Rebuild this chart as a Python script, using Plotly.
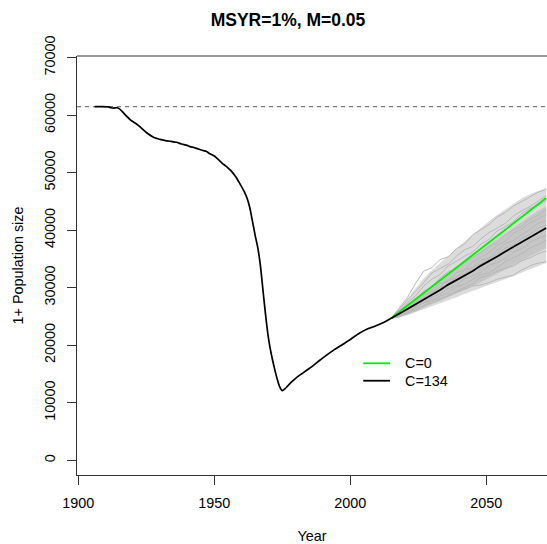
import plotly.graph_objects as go

# ---------------- data ----------------
hist_years = [1906, 1909, 1911, 1912, 1913, 1914, 1915, 1916, 1917, 1918, 1919, 1920,
              1921, 1922, 1923, 1924, 1925, 1926, 1927, 1928, 1929, 1930, 1932, 1934,
              1936, 1938, 1940, 1941, 1942, 1944, 1946, 1947, 1948, 1950, 1951, 1952,
              1953, 1954, 1955, 1956, 1957, 1958, 1959, 1960, 1961, 1962, 1963, 1964,
              1965, 1966, 1967, 1968, 1969, 1970, 1971, 1972, 1973, 1974, 1975, 1976,
              1977, 1978, 1980, 1982, 1985, 1988, 1991, 1994, 1997, 2000, 2003, 2006,
              2009, 2012, 2015]
hist_pop = [61500, 61500, 61450, 61300, 61250, 61300, 61150, 60700, 60200, 59700, 59250, 58900,
            58600, 58250, 57850, 57400, 57000, 56650, 56350, 56100, 55950, 55800, 55600, 55450,
            55300, 55000, 54750, 54550, 54450, 54150, 53850, 53750, 53400, 52900, 52500, 52050,
            51600, 51250, 50850, 50400, 49850, 49200, 48400, 47600, 46700, 45600, 44000, 41600,
            39100, 36900, 33600, 29000, 24600, 20900, 18300, 16200, 14300, 12800, 12100, 12450,
            12950, 13450, 14300, 15000, 16000, 17100, 18200, 19200, 20100, 21000, 22000, 22800,
            23300, 23900, 24700]

carrying_capacity = 61500

proj_years = [2015, 2018, 2021, 2024, 2027, 2030, 2033, 2036, 2039, 2042,
              2045, 2048, 2051, 2054, 2057, 2060, 2063, 2066, 2069, 2072]
proj_c0 = [24700, 25800, 26850, 28000, 29150, 30200, 31350, 32400, 33450, 34600,
           35700, 36750, 37900, 39000, 40050, 41200, 42300, 43350, 44500, 45600]
proj_c134 = [24700, 25450, 26300, 27150, 27950, 28850, 29600, 30550, 31300, 32150,
             32900, 33850, 34600, 35450, 36300, 37150, 37900, 38750, 39550, 40400]

# envelopes of the simulated trajectories
sim_outer_hi = [24700, 26300, 28000, 29800, 31600, 33000, 34200, 35400, 36700, 38000,
                39200, 40400, 41500, 42600, 43600, 44600, 45500, 46200, 46800, 47300]
sim_outer_lo = [24700, 24900, 25300, 25800, 26300, 26900, 27400, 27900, 28400, 29000,
                29500, 30000, 30500, 31000, 31600, 32100, 32700, 33300, 33900, 34400]
sim_inner_hi = [24700, 26000, 27100, 28200, 29300, 30400, 31400, 32400, 33400, 34400,
                35400, 36500, 37500, 38500, 39500, 40500, 41500, 42400, 43300, 44100]
sim_inner_lo = [24700, 25000, 25400, 25900, 26600, 27200, 27800, 28400, 29000, 29600,
                30300, 31000, 31700, 32400, 33200, 34000, 34800, 35500, 36200, 36900]

# a few individual simulated trajectories (read approximately)
sim_runs = [
    [24700, 26500, 28300, 30800, 32900, 33500, 34900, 35400, 36800, 37600, 39200, 40100, 41000, 42300, 43100, 44200, 45000, 45900, 46600, 47100],
    [24700, 24900, 25600, 26100, 26900, 27400, 27900, 28700, 29200, 29800, 30300, 30500, 30900, 31500, 31900, 32200, 33100, 33800, 34300, 34500],
    [24700, 25900, 27400, 28600, 30300, 31500, 32300, 33800, 34600, 35500, 36200, 37600, 38400, 39900, 40600, 41500, 42900, 43800, 44300, 45200],
    [24700, 25200, 25900, 26800, 27300, 28400, 28900, 29900, 30400, 31600, 32100, 32700, 33900, 34400, 35100, 36200, 36800, 37900, 38600, 39100],
    [24700, 25600, 26400, 27700, 28200, 29600, 30800, 31200, 32600, 33100, 34500, 35300, 36100, 37400, 38100, 39500, 40200, 41300, 41900, 42800],
    [24700, 25300, 26700, 27200, 28800, 29300, 30100, 31300, 31800, 33000, 33600, 34800, 35200, 36500, 37700, 38200, 39300, 40100, 41200, 41600],
    [24700, 25100, 25700, 26600, 27400, 27800, 28600, 29100, 30200, 30600, 31400, 32300, 32600, 33500, 34600, 35300, 35900, 36900, 37500, 38300],
    [24700, 26200, 27900, 29400, 30900, 32600, 33400, 34100, 35500, 36600, 37200, 38500, 39600, 40400, 41200, 42500, 43400, 44100, 45100, 46000],
    [24700, 25000, 25500, 26300, 26800, 27900, 28100, 28500, 29400, 30100, 30700, 31800, 32200, 32900, 33300, 33800, 34700, 35200, 35900, 36400],
    [24700, 25700, 27100, 27900, 29400, 30100, 31700, 32800, 33200, 34400, 35300, 36100, 37200, 37800, 39200, 40100, 40700, 41900, 42600, 43500],
    [24700, 25400, 26100, 27400, 27900, 29100, 29800, 30700, 31900, 32400, 33400, 34200, 35100, 35800, 36900, 37400, 38600, 39300, 40400, 40900],
]

x_ticks = [1900, 1950, 2000, 2050]
y_ticks = [0, 10000, 20000, 30000, 40000, 50000, 60000, 70000]
legend_labels = ["C=0", "C=134"]
legend_colors = ["#00ee00", "#000000"]

# ---------------- figure ----------------
FONT = "Liberation Sans, Arial, sans-serif"
FS = 14.4
fig = go.Figure()

# outer envelope
fig.add_trace(go.Scatter(x=proj_years, y=sim_outer_hi, mode="lines",
                         line=dict(color="#d4d4d4", width=0.5), hoverinfo="skip", showlegend=False))
fig.add_trace(go.Scatter(x=proj_years, y=sim_outer_lo, mode="lines", fill="tonexty",
                         fillcolor="#dcdcdc", line=dict(color="#d0d0d0", width=0.5),
                         hoverinfo="skip", showlegend=False))
# inner dense band
fig.add_trace(go.Scatter(x=proj_years, y=sim_inner_hi, mode="lines",
                         line=dict(color="#c6c6c6", width=0.5), hoverinfo="skip", showlegend=False))
fig.add_trace(go.Scatter(x=proj_years, y=sim_inner_lo, mode="lines", fill="tonexty",
                         fillcolor="#c6c6c6", line=dict(color="#c6c6c6", width=0.5),
                         hoverinfo="skip", showlegend=False))
for run in sim_runs:
    fig.add_trace(go.Scatter(x=proj_years, y=run, mode="lines",
                             line=dict(color="#b8b8b8", width=1), hoverinfo="skip", showlegend=False))

# carrying capacity
fig.add_trace(go.Scatter(x=[1899.5, 2072.3], y=[carrying_capacity, carrying_capacity], mode="lines",
                         line=dict(color="#7a7a7a", width=1.1, dash="4px,4px"),
                         hoverinfo="skip", showlegend=False))

# projections
fig.add_trace(go.Scatter(x=proj_years, y=proj_c0, mode="lines", name=legend_labels[0],
                         line=dict(color=legend_colors[0], width=1.8), showlegend=False))
fig.add_trace(go.Scatter(x=proj_years, y=proj_c134, mode="lines", name=legend_labels[1],
                         line=dict(color=legend_colors[1], width=1.8), showlegend=False))
# history
fig.add_trace(go.Scatter(x=hist_years, y=hist_pop, mode="lines", name="history",
                         line=dict(color="#000000", width=1.7, shape="spline", smoothing=0.6),
                         showlegend=False))

# manual legend
legend_y = [0.2666, 0.225]
for lab, col, ly in zip(legend_labels, legend_colors, legend_y):
    fig.add_shape(type="line", xref="paper", yref="paper", x0=0.609, x1=0.666, y0=ly, y1=ly,
                  line=dict(color=col, width=1.8))
    fig.add_annotation(xref="paper", yref="paper", x=0.693, y=ly, text=lab, showarrow=False,
                       xanchor="left", yanchor="middle", font=dict(family=FONT, size=FS, color="#000"))

# top border of box
fig.add_shape(type="line", xref="paper", yref="paper", x0=0, x1=1, y0=1, y1=1,
              line=dict(color="#333333", width=1))

fig.update_layout(
    width=547, height=544,
    margin=dict(l=77, r=0, t=56, b=69),
    paper_bgcolor="white", plot_bgcolor="white",
    font=dict(family=FONT, size=FS, color="#000"),
    title=dict(text="<b>MSYR=1%, M=0.05</b>", x=288 / 547, xref="container", xanchor="center",
               y=1 - 20 / 544, yref="container", yanchor="middle",
               font=dict(family=FONT, size=17.5, color="#000")),
    xaxis=dict(range=[1899.5, 2072.3], tickvals=x_ticks, ticktext=[str(v) for v in x_ticks],
               ticks="outside", ticklen=9, tickcolor="#333", showline=True, linecolor="#333",
               linewidth=1, showgrid=False, zeroline=False, ticklabelstandoff=6,
               title=dict(text="Year", standoff=22, font=dict(size=FS)),
               tickfont=dict(size=FS)),
    yaxis=dict(range=[-2560, 70300], tickvals=y_ticks, ticktext=[str(v) for v in y_ticks],
               tickangle=-90, ticks="outside", ticklen=9, tickcolor="#333", showline=True,
               linecolor="#333", linewidth=1, showgrid=False, zeroline=False, ticklabelstandoff=6,
               title=dict(text="1+ Population size", standoff=15, font=dict(size=FS)),
               tickfont=dict(size=FS)),
)

fig.write_html("out.html")
